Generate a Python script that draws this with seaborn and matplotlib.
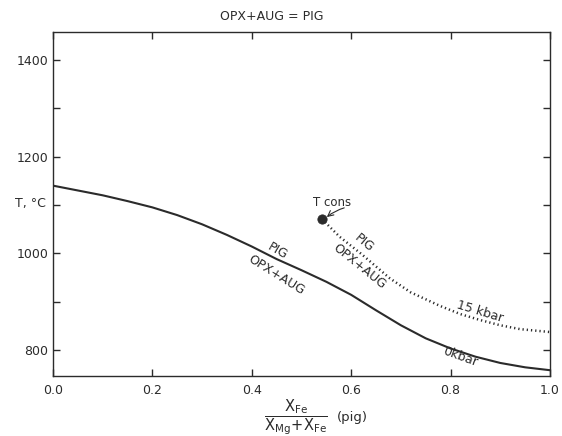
import matplotlib
matplotlib.use("Agg")
import matplotlib.pyplot as plt
import seaborn as sns
import pandas as pd
import numpy as np

# Phase boundary OPX + AUG = PIG
x_0kbar = [0.00, 0.05, 0.10, 0.15, 0.20, 0.25, 0.30, 0.35, 0.40, 0.45, 0.50,
           0.55, 0.60, 0.65, 0.70, 0.75, 0.80, 0.85, 0.90, 0.95, 1.00]
t_0kbar = [1140, 1130, 1120, 1108, 1095, 1079, 1060, 1038, 1014, 988, 965,
           941, 914, 882, 851, 824, 803, 786, 773, 764, 758]

x_15kbar = [0.541, 0.577, 0.62, 0.678, 0.72, 0.779, 0.82, 0.859, 0.90, 0.94, 1.00]
t_15kbar = [1071, 1034, 999, 948, 919, 891, 874, 862, 851, 843, 837]

# T consolute point
x_tcons = [0.541]
t_tcons = [1071]

x_ticks = [0.0, 0.2, 0.4, 0.6, 0.8, 1.0]
y_ticks = [800, 1000, 1200, 1400]
y_minor = [900, 1100, 1300]

INK = "#2b2b2b"

sns.set_style("ticks")
plt.rcParams["font.family"] = ["DejaVu Sans"]
plt.rcParams["mathtext.fontset"] = "dejavusans"

df0 = pd.DataFrame({"x": x_0kbar, "T": t_0kbar})
df15 = pd.DataFrame({"x": x_15kbar, "T": t_15kbar})
dfc = pd.DataFrame({"x": x_tcons, "T": t_tcons})

fig = plt.figure(figsize=(5.62, 4.36), dpi=100)
ax = fig.add_axes([0.0943, 0.1376, 0.8843, 0.789])

sns.lineplot(data=df0, x="x", y="T", ax=ax, color=INK, lw=1.5, sort=False)
sns.lineplot(data=df15, x="x", y="T", ax=ax, color=INK, lw=1.8, ls=(0, (0.5, 1.2)), sort=False)
sns.scatterplot(data=dfc, x="x", y="T", ax=ax, color=INK, s=45, edgecolor=INK, zorder=5)

ax.set_xlim(0, 1)
ax.set_ylim(746, 1458)
ax.set_xticks(x_ticks)
ax.set_xticklabels([f"{v:.1f}" for v in x_ticks])
ax.set_yticks(y_ticks)
ax.set_yticks(y_minor, minor=True)
ax.set_xlabel("")
ax.set_ylabel("")

for s in ax.spines.values():
    s.set_color(INK)
    s.set_linewidth(1.0)

ax.tick_params(which="both", direction="in", top=True, right=True, color=INK,
               labelcolor=INK, labelsize=9, width=1.0)
ax.tick_params(which="major", length=5)
ax.tick_params(which="minor", length=5)
ax.tick_params(axis="x", pad=6)

# curve labels
tk = dict(color=INK, fontsize=9, ha="center", va="center", rotation_mode="anchor")
ax.text(0.451, 1005, "PIG", rotation=-30, **tk)
ax.text(0.450, 955, "OPX+AUG", rotation=-32, **tk)
ax.text(0.626, 1021, "PIG", rotation=-40, **tk)
ax.text(0.616, 972, "OPX+AUG", rotation=-39, **tk)
ax.text(0.859, 879, "15 kbar", rotation=-17, **tk)
ax.text(0.819, 786, "0kbar", rotation=-20, **tk)

# T cons label with a small arrow to the point
ax.text(0.561, 1106, "T cons", color=INK, fontsize=8.5, ha="center", va="center")
ax.annotate("", xy=(0.551, 1075), xytext=(0.586, 1094),
            arrowprops=dict(arrowstyle="->", color=INK, lw=0.8,
                            shrinkA=0, shrinkB=0,
                            connectionstyle="arc3,rad=0.1"))

ax.text(-0.046, 1104, "T, °C", color=INK, fontsize=9, ha="center", va="center",
        clip_on=False)

fig.text(272 / 562, 1 - 16 / 436, "OPX+AUG = PIG", color=INK, fontsize=9,
         ha="center", va="center")
# x-axis label: X_Fe / (X_Mg + X_Fe) (pig)
fig.text(296 / 562, 1 - 417 / 436,
         r"$\dfrac{\mathrm{X_{Fe}}}{\mathrm{X_{Mg}\!+\!X_{Fe}}}$",
         color=INK, fontsize=10.5, ha="center", va="center")
fig.text(352 / 562, 1 - 417 / 436, "(pig)", color=INK, fontsize=9.5,
         ha="center", va="center")

fig.savefig("out.png", dpi=100)
